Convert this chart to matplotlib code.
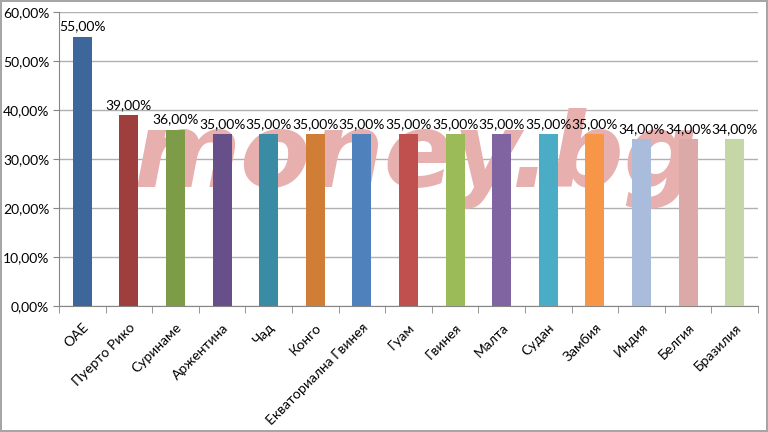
import matplotlib.pyplot as plt
from matplotlib.ticker import FuncFormatter

countries = ["ОАЕ", "Пуерто Рико", "Суринаме", "Аржентина", "Чад", "Конго",
             "Екваториална Гвинея", "Гуам", "Гвинея", "Малта", "Судан",
             "Замбия", "Индия", "Белгия", "Бразилия"]
values = [55, 39, 36, 35, 35, 35, 35, 35, 35, 35, 35, 35, 34, 34, 34]
colors = ["#3D679A", "#9E3F3D", "#7E9C48", "#674F89", "#3A8CA4", "#D07D36",
          "#4F81BD", "#C0504D", "#9BBB59", "#8064A2", "#4BACC6", "#F79646",
          "#A9BCDB", "#DBA9A8", "#C6D7A7"]

plt.rcParams['font.family'] = ['Lato', 'DejaVu Sans']


def pct(v):
    return ("%.2f%%" % v).replace('.', ',')


fig = plt.figure(figsize=(7.68, 4.32), dpi=100)
fig.patch.set_edgecolor('#A6A6A6')
fig.patch.set_linewidth(1.5)
ax = fig.add_axes([0.0768, 0.2917, 0.9102, 0.6805])

x = range(len(countries))
bars = ax.bar(x, values, width=0.41, color=colors, zorder=3)
for xi, v in zip(x, values):
    ax.annotate(pct(v), (xi, v), xytext=(0, 3), textcoords='offset points',
                ha='center', va='bottom', fontsize=10, zorder=4)

# watermark
ax.text(0.51, 0.50, "money.bg", transform=ax.transAxes, ha='center', va='center',
        fontsize=74, fontweight='bold', style='italic', family='DejaVu Sans',
        color='#E8AFAF', zorder=2)

ax.set_xlim(-0.5, len(countries) - 0.5)
ax.set_ylim(0, 60)
ax.set_yticks(range(0, 61, 10))
ax.yaxis.set_major_formatter(FuncFormatter(lambda v, p: pct(v)))
ax.yaxis.grid(True, color='#B0B0B0', lw=1, zorder=0)

ax.set_xticks(list(x))
ax.set_xticklabels(countries, rotation=45, ha='right', rotation_mode='anchor')
ax.set_xticks([i - 0.5 for i in range(len(countries) + 1)], minor=True)
ax.tick_params(axis='x', which='major', length=0, pad=11, labelsize=10)
ax.tick_params(axis='x', which='minor', length=5, color='#868686')
ax.tick_params(axis='y', length=4, pad=3, color='#868686', labelsize=10)

for s in ['top', 'right']:
    ax.spines[s].set_visible(False)
for s in ['left', 'bottom']:
    ax.spines[s].set_color('#868686')

fig.savefig("out.png", dpi=100)
